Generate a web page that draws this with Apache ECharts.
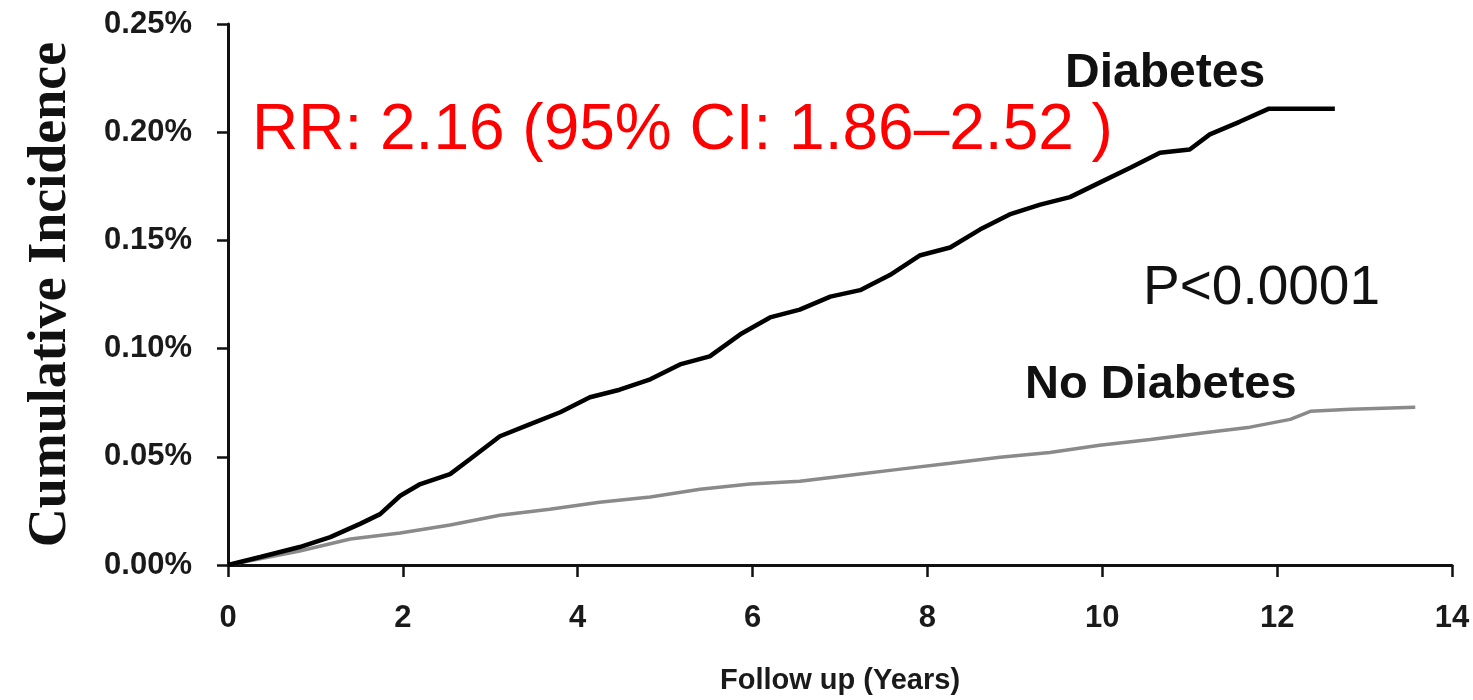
<!DOCTYPE html>
<html>
<head>
<meta charset="utf-8">
<title>Cumulative Incidence</title>
<script src="https://cdn.jsdelivr.net/npm/echarts@6/dist/echarts.min.js"></script>
<style>
  html, body { margin: 0; padding: 0; background: #fff; }
  #chart { width: 1473px; height: 700px; }
</style>
</head>
<body>
<div id="chart"></div>
<script>
// 随访年数与累积发病率（单位：%）
var diabetesYears = [0, 0.37, 0.82, 1.17, 1.51, 1.74, 1.97, 2.2, 2.54, 2.77, 3.11, 3.45, 3.8, 4.14, 4.48, 4.83, 5.17, 5.51, 5.86, 6.2, 6.54, 6.89, 7.23, 7.57, 7.91, 8.26, 8.6, 8.94, 9.29, 9.63, 9.97, 10.32, 10.66, 11.0, 11.23, 11.57, 11.9, 12.66];
var diabetesInc = [0, 0.0037, 0.0083, 0.0129, 0.019, 0.0235, 0.032, 0.0374, 0.042, 0.049, 0.0595, 0.065, 0.0706, 0.0775, 0.081, 0.0858, 0.0927, 0.0964, 0.1066, 0.1144, 0.118, 0.124, 0.127, 0.134, 0.143, 0.1467, 0.155, 0.162, 0.1665, 0.17, 0.1767, 0.1836, 0.1905, 0.192, 0.199, 0.2048, 0.2108, 0.2108];

var noDiabYears = [0, 0.82, 1.4, 1.97, 2.54, 3.11, 3.68, 4.25, 4.83, 5.4, 5.97, 6.54, 7.11, 7.69, 8.26, 8.83, 9.4, 9.97, 10.55, 11.12, 11.69, 12.15, 12.38, 12.84, 13.58];
var noDiabInc = [0, 0.0065, 0.012, 0.0148, 0.0185, 0.023, 0.0258, 0.029, 0.0314, 0.035, 0.0374, 0.0387, 0.0415, 0.0443, 0.047, 0.0498, 0.052, 0.0553, 0.058, 0.0609, 0.0637, 0.0673, 0.071, 0.072, 0.0729];

var xTicks = [0, 14, 2];       // min, max, interval
var yTicks = [0, 0.25, 0.05];  // min, max, interval

function pairs(xs, ys) {
    return xs.map(function (x, i) { return [x, ys[i]]; });
}

var narrowFont = "'Liberation Sans Narrow', 'Arial Narrow', 'Liberation Sans', Arial, sans-serif";
var sansFont = "'Liberation Sans', Arial, sans-serif";

var myChart = echarts.init(document.getElementById('chart'));

var option = {
    backgroundColor: '#fff',
    animation: false,
    grid: { left: 228, right: 21, top: 24, bottom: 134 },
    xAxis: {
        type: 'value',
        min: xTicks[0], max: xTicks[1], interval: xTicks[2],
        name: 'Follow up (Years)',
        nameLocation: 'middle',
        nameGap: 101,
        nameTextStyle: { fontFamily: sansFont, fontWeight: 'bold', fontSize: 29, color: '#1a1a1a' },
        axisLine: { lineStyle: { color: '#111', width: 3 } },
        axisTick: { length: 12, lineStyle: { color: '#111', width: 2.5 } },
        axisLabel: { margin: 38, fontFamily: narrowFont, fontWeight: 'bold', fontSize: 31, color: '#1a1a1a' },
        splitLine: { show: false }
    },
    yAxis: {
        type: 'value',
        min: yTicks[0], max: yTicks[1], interval: yTicks[2],
        name: 'Cumulative Incidence',
        nameLocation: 'middle',
        nameRotate: 90,
        nameGap: 150,
        nameTextStyle: { fontFamily: "'Liberation Serif', 'Times New Roman', serif", fontWeight: 'bold', fontSize: 54, color: '#111' },
        axisLine: { show: true, lineStyle: { color: '#111', width: 3 } },
        axisTick: { show: true, length: 11, lineStyle: { color: '#111', width: 2.5 } },
        axisLabel: {
            margin: 36, fontFamily: narrowFont, fontWeight: 'bold', fontSize: 31, color: '#1a1a1a',
            formatter: function (v) { return v.toFixed(2) + '%'; }
        },
        splitLine: { show: false }
    },
    series: [
        {
            name: 'Diabetes',
            type: 'line',
            symbol: 'none',
            data: pairs(diabetesYears, diabetesInc),
            lineStyle: { color: '#000', width: 4.5 },
            z: 3
        },
        {
            name: 'No Diabetes',
            type: 'line',
            symbol: 'none',
            data: pairs(noDiabYears, noDiabInc),
            lineStyle: { color: '#8a8a8a', width: 3.5 },
            z: 2
        }
    ],
    // 图上的文字注释
    graphic: [
        { type: 'text', left: 252, top: 99, style: { text: 'RR: 2.16 (95% CI: 1.86\u20132.52 )', font: '64px ' + sansFont, fill: '#ff0000' } },
        { type: 'text', left: 1065, top: 50, style: { text: 'Diabetes', font: 'bold 48px ' + sansFont, fill: '#111' } },
        { type: 'text', left: 1143, top: 261, style: { text: 'P<0.0001', font: '55px ' + sansFont, fill: '#111' } },
        { type: 'text', left: 1025, top: 362, style: { text: 'No Diabetes', font: 'bold 47px ' + sansFont, fill: '#111' } }
    ]
};

myChart.setOption(option);
</script>
</body>
</html>
